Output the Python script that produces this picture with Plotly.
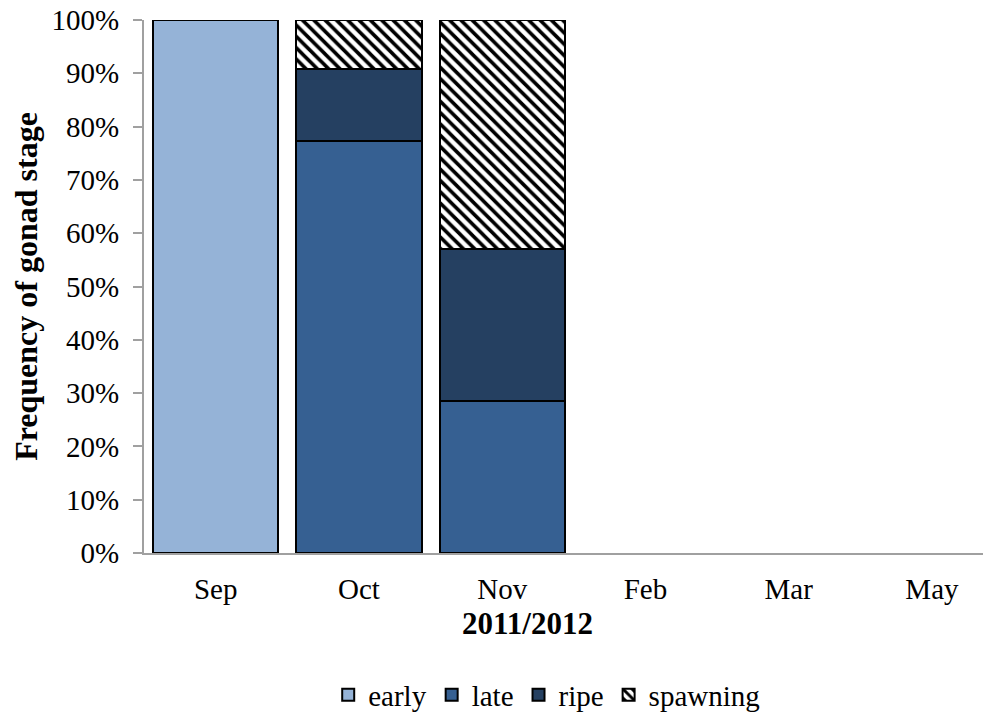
import plotly.graph_objects as go

months = ["Sep", "Oct", "Nov", "Feb", "Mar", "May"]
early = [100.0, 0, 0, None, None, None]
late = [0, 77.3, 28.6, None, None, None]
ripe = [0, 13.6, 28.5, None, None, None]
spawning = [0, 9.1, 42.9, None, None, None]

FONT = "Liberation Serif"

fig = go.Figure()

fig.add_trace(go.Bar(x=months, y=early, name="early",
                     marker=dict(color="#95B3D7", line=dict(color="black", width=2))))
fig.add_trace(go.Bar(x=months, y=late, name="late",
                     marker=dict(color="#366092", line=dict(color="black", width=2))))
fig.add_trace(go.Bar(x=months, y=ripe, name="ripe",
                     marker=dict(color="#254061", line=dict(color="black", width=2))))
fig.add_trace(go.Bar(x=months, y=spawning, name="spawning",
                     marker=dict(color="white", line=dict(color="black", width=2),
                                 pattern=dict(shape="\\", fgcolor="black", bgcolor="white",
                                              size=8, solidity=0.45, fillmode="replace"))))

# page body adds an 8px offset, so margins are shifted accordingly
fig.update_layout(
    barmode="stack",
    bargap=0.126,
    width=991, height=717,
    margin=dict(l=136, r=0, t=12, b=172, autoexpand=False),
    plot_bgcolor="white", paper_bgcolor="white",
    font=dict(family=FONT, size=29, color="black"),
    showlegend=True,
    legend=dict(orientation="h", x=0.471, xanchor="center", y=-0.266, yanchor="middle",
                font=dict(size=29), traceorder="normal", itemwidth=30),
)

fig.update_xaxes(
    range=[-0.5, 5.468],
    showline=True, linecolor="#A0A0A0", linewidth=2,
    ticks="", showgrid=False, automargin=False,
    ticklabelstandoff=9,
    tickfont=dict(size=29),
)
fig.update_yaxes(
    range=[0, 100],
    tickvals=list(range(0, 101, 10)),
    ticktext=[f"{v}%" for v in range(0, 101, 10)],
    showline=True, linecolor="#A0A0A0", linewidth=2,
    ticks="outside", ticklen=9, tickcolor="#A0A0A0", tickwidth=2,
    showgrid=False, zeroline=False, automargin=False,
    ticklabelstandoff=8, ticklabeloverflow="allow",
    tickfont=dict(size=29),
    title=dict(text="<b>Frequency of gonad stage</b>", font=dict(size=32), standoff=22),
)

fig.add_annotation(text="<b>2011/2012</b>", xref="paper", yref="paper",
                   x=0.449, y=-0.133, xanchor="center", yanchor="middle", showarrow=False,
                   font=dict(size=31, family=FONT))

fig.write_html("out.html")
